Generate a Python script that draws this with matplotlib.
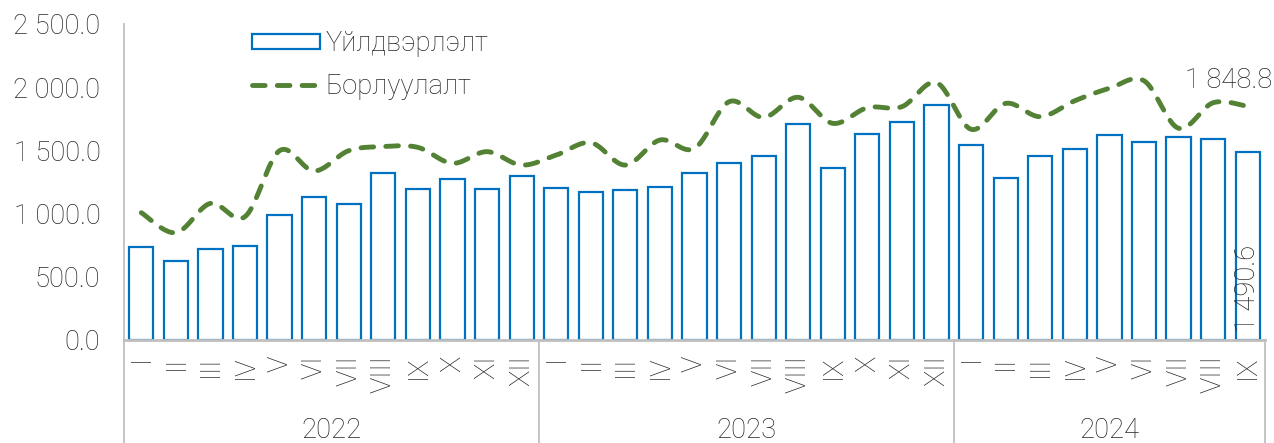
import numpy as np
import matplotlib
matplotlib.use("Agg")
import matplotlib.pyplot as plt
from matplotlib.lines import Line2D
from matplotlib.patches import Rectangle

# Monthly data, 2022-01 .. 2024-09
years = ["2022", "2023", "2024"]
months_per_year = [12, 12, 9]
month_labels = ["I", "II", "III", "IV", "V", "VI", "VII", "VIII", "IX", "X", "XI", "XII"]

production = [738, 622, 720, 746, 989, 1134, 1073, 1319, 1197, 1274, 1197, 1300,
              1203, 1171, 1187, 1210, 1324, 1398, 1453, 1706, 1358, 1627, 1725, 1862,
              1540, 1282, 1458, 1514, 1624, 1564, 1606, 1588, 1490.6]
sales = [1007, 849, 1081, 976, 1498, 1337, 1498, 1530, 1524, 1398, 1490, 1384,
         1463, 1561, 1384, 1582, 1516, 1885, 1761, 1920, 1714, 1838, 1846, 2036,
         1667, 1872, 1767, 1893, 1991, 2051, 1675, 1877, 1848.8]

series_names = ["Үйлдвэрлэлт", "Борлуулалт"]

BAR_EDGE = "#0070C0"
LINE_GREEN = "#548235"
TEXT = "#262626"
AXIS_GRAY = "#BFBFBF"

plt.rcParams["font.family"] = ["Roboto", "DejaVu Sans"]
plt.rcParams["font.weight"] = "light"
FS = 19.7


def fmt(v):
    return f"{v:,.1f}".replace(",", " ")


def smooth_curve(x, y, steps=24):
    """Catmull-Rom style cubic Bezier smoothing through every point."""
    x = np.asarray(x, float)
    y = np.asarray(y, float)
    px = np.concatenate([[x[0]], x, [x[-1]]])
    py = np.concatenate([[y[0]], y, [y[-1]]])
    xs, ys = [], []
    t = np.linspace(0, 1, steps)
    for i in range(1, len(px) - 2):
        p0 = np.array([px[i], py[i]])
        p3 = np.array([px[i + 1], py[i + 1]])
        c1 = p0 + (np.array([px[i + 1], py[i + 1]]) - np.array([px[i - 1], py[i - 1]])) / 6
        c2 = p3 - (np.array([px[i + 2], py[i + 2]]) - np.array([px[i], py[i]])) / 6
        b = ((1 - t) ** 3)[:, None] * p0 + (3 * (1 - t) ** 2 * t)[:, None] * c1 \
            + (3 * (1 - t) * t ** 2)[:, None] * c2 + (t ** 3)[:, None] * p3
        xs.append(b[:, 0] if i == 1 else b[1:, 0])
        ys.append(b[:, 1] if i == 1 else b[1:, 1])
    return np.concatenate(xs), np.concatenate(ys)


fig = plt.figure(figsize=(12.74, 4.43), dpi=100)
ax = fig.add_axes([124 / 1274, 103 / 443, (1265 - 124) / 1274, 316 / 443])

n = len(production)
x = np.arange(n)

ax.bar(x, production, width=0.7, facecolor="white", edgecolor=BAR_EDGE,
       linewidth=1.6, zorder=2)

sx, sy = smooth_curve(x, sales)
ax.plot(sx, sy, color=LINE_GREEN, linewidth=3.5, linestyle=(0, (2.6, 2.5)),
        dash_capstyle="round", solid_capstyle="round", zorder=3)

ax.set_xlim(-0.5, n - 0.5)
ax.set_ylim(0, 2500)
ax.set_yticks(np.arange(0, 2501, 500))
ax.set_yticklabels([fmt(v) for v in np.arange(0, 2501, 500)], fontsize=FS, color=TEXT)
ax.tick_params(axis="y", length=0, pad=17)

tick_text = []
for count in months_per_year:
    tick_text += month_labels[:count]
ax.set_xticks(x)
ax.set_xticklabels(tick_text, rotation=90, fontsize=FS, color=TEXT, va="top")
ax.tick_params(axis="x", length=0, pad=11)

for side in ["top", "right"]:
    ax.spines[side].set_visible(False)
ax.spines["left"].set_color(AXIS_GRAY)
ax.spines["left"].set_linewidth(1.3)
ax.spines["bottom"].set_color(AXIS_GRAY)
ax.spines["bottom"].set_linewidth(2.0)

# Year groups under the month labels
trans = ax.get_xaxis_transform()
bottom_frac = -103 / 316
bounds = np.concatenate([[0], np.cumsum(months_per_year)]) - 0.5
for b in bounds:
    ax.add_line(Line2D([b, b], [0, bottom_frac], transform=trans, color=AXIS_GRAY,
                       linewidth=1.3, clip_on=False))
for i, yr in enumerate(years):
    mid = (bounds[i] + bounds[i + 1]) / 2
    ax.text(mid, -90 / 316, yr, transform=trans, ha="center", va="center",
            fontsize=FS, color=TEXT)

# Value labels for the last month
ax.annotate(fmt(sales[-1]), (x[-1], sales[-1]), xytext=(-14, 9),
            textcoords="offset points", ha="center", va="bottom",
            fontsize=FS, color=TEXT)
ax.text(x[-1], 62, fmt(production[-1]), rotation=90, ha="center", va="bottom",
        fontsize=FS, color=TEXT)

handles = [Rectangle((0, 0), 1, 1, facecolor="white", edgecolor=BAR_EDGE, linewidth=1.6),
           Line2D([0], [0], color=LINE_GREEN, linewidth=3.5, linestyle=(0, (2.6, 2.5)),
                  dash_capstyle="round")]
leg = ax.legend(handles, series_names, loc="upper left", bbox_to_anchor=(0.1025, 1.015),
                frameon=False, fontsize=FS, handlelength=2.5, handleheight=0.5,
                handletextpad=0.18, labelspacing=0.58, borderaxespad=0)
for t in leg.get_texts():
    t.set_color(TEXT)

fig.savefig("out.png", dpi=100, facecolor="white")
